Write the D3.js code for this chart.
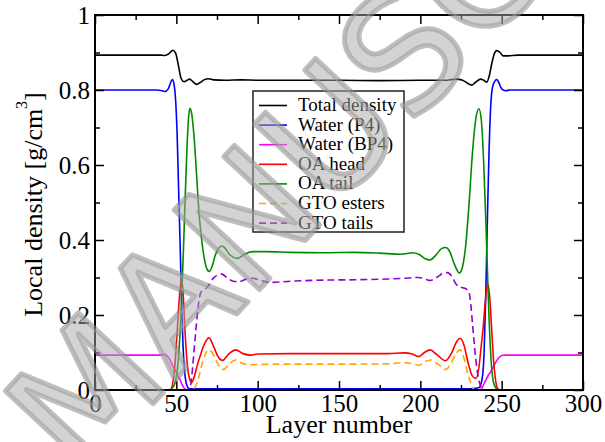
<!DOCTYPE html>
<html>
<head>
<meta charset="utf-8">
<script src="https://cdn.jsdelivr.net/npm/d3@7"></script>
<style>
  html, body { margin: 0; padding: 0; background: #fff; }
  svg { display: block; }
  text { font-family: "Liberation Serif", "Times New Roman", serif; }
</style>
</head>
<body>
<svg id="chart" width="605" height="442"></svg>
<script>
// ---------- data (layer number, density g/cm^3) ----------
const xTickLabels = [0, 50, 100, 150, 200, 250, 300];
const yTickLabels = [0, 0.2, 0.4, 0.6, 0.8, 1];
const seriesNames = ["Total density", "Water (P4)", "Water (BP4)", "OA head", "OA tail", "GTO esters", "GTO tails"];

const totalDensity = [[0,0.893],[20,0.893],[40,0.893],[43,0.892],[45.5,0.897],[47.8,0.906],[49.5,0.899],[51.3,0.865],[53,0.83],[54.8,0.822],[56.6,0.826],[58.2,0.829],[60,0.823],[62.5,0.815],[64.7,0.82],[67,0.827],[69.7,0.83],[73,0.827],[80,0.826],[90,0.827],[100,0.826],[125,0.826],[150,0.826],[175,0.825],[200,0.826],[215,0.826],[222,0.829],[226,0.826],[229,0.818],[231.6,0.813],[234.3,0.822],[237,0.829],[239,0.826],[240.8,0.821],[242.5,0.84],[244,0.872],[245.5,0.897],[247,0.905],[249,0.9],[251,0.891],[253,0.891],[260,0.893],[280,0.893],[300,0.893]];

const waterP4 = [[0,0.8],[38,0.8],[41,0.798],[43,0.796],[45,0.803],[46.5,0.82],[47.6,0.828],[48.6,0.815],[49.6,0.77],[50.5,0.68],[51.5,0.52],[52.5,0.36],[53.3,0.22],[54.2,0.11],[55.2,0.045],[56.5,0.012],[58,0.003],[70,0.003],[150,0.003],[230,0.003],[236,0.006],[238,0.03],[239.2,0.1],[240.2,0.25],[241.2,0.45],[242.2,0.63],[243.3,0.76],[244.5,0.81],[246,0.825],[247,0.828],[248.2,0.82],[250,0.803],[252.5,0.798],[255,0.8],[300,0.8]];

const waterBP4 = [[0,0.093],[40,0.093],[42.5,0.095],[44.5,0.09],[46.1,0.08],[47.6,0.066],[49.2,0.053],[50.8,0.04],[52.3,0.027],[53.8,0.012],[55.3,0.003],[57,0],[236,0],[237.7,0.004],[239.5,0.02],[241.6,0.038],[243.8,0.053],[245.8,0.07],[247.9,0.084],[250,0.092],[252,0.093],[300,0.093]];

const oaHead = [[0,0],[46,0],[47.1,0.005],[48.2,0.03],[49.2,0.071],[50.2,0.135],[51.2,0.204],[52.3,0.27],[53.3,0.295],[54.3,0.25],[55.3,0.16],[56.7,0.071],[58,0.032],[59.4,0.02],[61,0.035],[62.8,0.065],[64.5,0.089],[67,0.12],[70,0.139],[73,0.115],[75.5,0.09],[78.5,0.079],[82,0.095],[86.5,0.107],[91,0.097],[95.8,0.093],[100,0.096],[120,0.097],[150,0.097],[180,0.097],[190,0.099],[195,0.096],[199,0.089],[202.5,0.1],[206,0.107],[210,0.095],[215.6,0.078],[219,0.097],[222.5,0.13],[224.4,0.138],[226.8,0.12],[229.5,0.07],[232,0.037],[234.2,0.031],[236,0.06],[237.5,0.12],[238.7,0.17],[240,0.24],[241.4,0.284],[242.6,0.25],[243.9,0.16],[245,0.08],[246,0.035],[247.4,0.005],[249,0],[300,0]];

const oaTail = [[0,0],[45,0],[47,0.003],[49,0.016],[51,0.07],[53,0.213],[55,0.455],[56.5,0.642],[57.6,0.73],[58.4,0.751],[59.5,0.735],[61,0.67],[62.5,0.57],[64,0.47],[65.6,0.4],[67,0.355],[68.6,0.325],[70.3,0.316],[72,0.33],[74,0.36],[76,0.378],[78,0.384],[80,0.378],[83,0.36],[87.5,0.351],[92,0.362],[97,0.369],[105,0.369],[120,0.367],[140,0.366],[160,0.367],[175,0.365],[188,0.362],[195.5,0.366],[199,0.362],[203,0.35],[206,0.347],[210,0.362],[213,0.377],[215.6,0.38],[218,0.37],[221,0.335],[224,0.312],[226,0.33],[228,0.39],[230,0.5],[232,0.63],[234,0.72],[236,0.75],[237.5,0.72],[239,0.6],[240.5,0.42],[242,0.22],[243.5,0.08],[245,0.02],[247,0.003],[249,0],[300,0]];

const gtoEsters = [[0,0],[58,0],[60.5,0.003],[62,0.012],[63.5,0.03],[65,0.055],[66.5,0.08],[68,0.097],[69.8,0.107],[72,0.1],[74.5,0.078],[77,0.06],[79.2,0.055],[82.5,0.07],[86.5,0.08],[90,0.072],[95,0.067],[100,0.068],[120,0.069],[150,0.069],[180,0.07],[190,0.073],[195,0.07],[199,0.066],[203,0.076],[206.6,0.08],[210.5,0.07],[215.6,0.055],[219,0.072],[222,0.098],[224.4,0.107],[226.5,0.09],[228.5,0.055],[230.5,0.025],[232.2,0.006],[233.6,0],[300,0]];

const gtoTails = [[0,0],[57.5,0],[59,0.018],[60,0.06],[61,0.11],[62,0.16],[63,0.205],[64,0.24],[65,0.26],[66.5,0.266],[68,0.27],[70,0.28],[72.5,0.297],[75,0.306],[78,0.309],[81,0.3],[85,0.29],[88.6,0.289],[93,0.296],[97,0.298],[102,0.292],[107.6,0.287],[120,0.29],[140,0.293],[160,0.294],[180,0.296],[190,0.298],[199,0.3],[203,0.296],[206,0.292],[210,0.3],[213.5,0.31],[216.7,0.313],[219.5,0.302],[222,0.282],[225,0.274],[228,0.27],[229.8,0.262],[231,0.23],[232,0.18],[233,0.13],[234,0.085],[235,0.05],[236.2,0.022],[237.5,0.006],[238.8,0],[300,0]];

const watermarkText = "MANUSCRIPT";

// ---------- layout ----------
const plotL = 95, plotR = 583, plotT = 15, plotB = 390;
const svg = d3.select("#chart");

const x = d3.scaleLinear().domain([0, 300]).range([plotL, plotR]);
const y = d3.scaleLinear().domain([0, 1]).range([plotB, plotT]);

const series = [
  { name: seriesNames[0], data: totalDensity, color: "#000000", dash: null },
  { name: seriesNames[1], data: waterP4,     color: "#0000ff", dash: null },
  { name: seriesNames[2], data: waterBP4,    color: "#ff00ff", dash: null },
  { name: seriesNames[3], data: oaHead,      color: "#ff0000", dash: null },
  { name: seriesNames[4], data: oaTail,      color: "#008b00", dash: null },
  { name: seriesNames[5], data: gtoEsters,   color: "#ffa500", dash: "7,4" },
  { name: seriesNames[6], data: gtoTails,    color: "#9400d3", dash: "7,4" }
];

svg.append("defs").append("clipPath").attr("id", "plotclip")
  .append("rect").attr("x", plotL).attr("y", plotT)
  .attr("width", plotR - plotL).attr("height", plotB - plotT);

// ---------- lines ----------
const line = d3.line()
  .x(d => x(d[0])).y(d => y(d[1]))
  .curve(d3.curveMonotoneX);

const gLines = svg.append("g").attr("clip-path", "url(#plotclip)");
series.forEach(s => {
  gLines.append("path")
    .attr("d", line(s.data))
    .attr("fill", "none")
    .attr("stroke", s.color)
    .attr("stroke-width", 1.6)
    .attr("stroke-dasharray", s.dash);
});

// ---------- axes ----------
const xMinor = d3.range(25, 300, 50);
const yMinor = [0.1, 0.3, 0.5, 0.7, 0.9];
const yFmt = d => (d === 0 || d === 1) ? String(d) : d.toFixed(1);

function styleAxis(g) {
  g.select(".domain").remove();
  g.selectAll(".tick line").attr("stroke", "#000").attr("stroke-width", 1.5);
  g.selectAll(".tick text").attr("fill", "#000")
    .style("font-family", "'Liberation Serif', serif").style("font-size", "25px");
}

svg.append("g").attr("transform", `translate(0,${plotB})`)
  .call(d3.axisBottom(x).tickValues(xTickLabels).tickSize(-9).tickPadding(4).tickFormat(d3.format("d")))
  .call(styleAxis);
svg.append("g").attr("transform", `translate(0,${plotB})`)
  .call(d3.axisBottom(x).tickValues(xMinor).tickSize(-5).tickFormat(""))
  .call(styleAxis);
svg.append("g").attr("transform", `translate(0,${plotT})`)
  .call(d3.axisTop(x).tickValues(xTickLabels).tickSize(-9).tickFormat(""))
  .call(styleAxis);
svg.append("g").attr("transform", `translate(0,${plotT})`)
  .call(d3.axisTop(x).tickValues(xMinor).tickSize(-5).tickFormat(""))
  .call(styleAxis);

svg.append("g").attr("transform", `translate(${plotL},0)`)
  .call(d3.axisLeft(y).tickValues(yTickLabels).tickSize(-9).tickPadding(5).tickFormat(yFmt))
  .call(styleAxis);
svg.append("g").attr("transform", `translate(${plotL},0)`)
  .call(d3.axisLeft(y).tickValues(yMinor).tickSize(-5).tickFormat(""))
  .call(styleAxis);
svg.append("g").attr("transform", `translate(${plotR},0)`)
  .call(d3.axisRight(y).tickValues(yTickLabels).tickSize(-9).tickFormat(""))
  .call(styleAxis);
svg.append("g").attr("transform", `translate(${plotR},0)`)
  .call(d3.axisRight(y).tickValues(yMinor).tickSize(-5).tickFormat(""))
  .call(styleAxis);

svg.append("rect")
  .attr("x", plotL).attr("y", plotT)
  .attr("width", plotR - plotL).attr("height", plotB - plotT)
  .attr("fill", "none").attr("stroke", "#000").attr("stroke-width", 2);

// ---------- titles ----------
svg.append("text")
  .attr("x", (plotL + plotR) / 2).attr("y", 433)
  .attr("text-anchor", "middle")
  .style("font-size", "26px")
  .text("Layer number");

const yt = svg.append("text")
  .attr("transform", `translate(42,${(plotT + plotB) / 2 + 2}) rotate(-90)`)
  .attr("text-anchor", "middle")
  .style("font-size", "26px");
yt.append("tspan").text("Local density [g/cm");
yt.append("tspan").attr("dy", -15).style("font-size", "16px").text("3");
yt.append("tspan").attr("dy", 15).text("]");

// ---------- legend ----------
const lgX = 253, lgY = 91, lgW = 151, lgH = 141;
const lg = svg.append("g");
lg.append("rect").attr("x", lgX).attr("y", lgY).attr("width", lgW).attr("height", lgH)
  .attr("fill", "#fff").attr("stroke", "#222").attr("stroke-width", 1.5);
series.forEach((s, i) => {
  const ry = 105.5 + i * 19.6;
  lg.append("line").attr("x1", 259).attr("x2", 287).attr("y1", ry).attr("y2", ry)
    .attr("stroke", s.color).attr("stroke-width", 1.6).attr("stroke-dasharray", s.dash);
  lg.append("text").attr("x", 298).attr("y", ry + 5.5)
    .style("font-size", "19px").text(s.name);
});

// ---------- watermark ----------
svg.append("text")
  .attr("transform", "translate(80,482) rotate(-47)")
  .style("font-family", "'DejaVu Sans', sans-serif")
  .style("font-size", "160px")
  .attr("fill", "#a8a8a8").attr("fill-opacity", 0.5)
  .attr("stroke", "#8a8a8a").attr("stroke-opacity", 0.55)
  .attr("stroke-width", 5).attr("stroke-linejoin", "round")
  .attr("paint-order", "stroke")
  .text(watermarkText);
</script>
</body>
</html>
